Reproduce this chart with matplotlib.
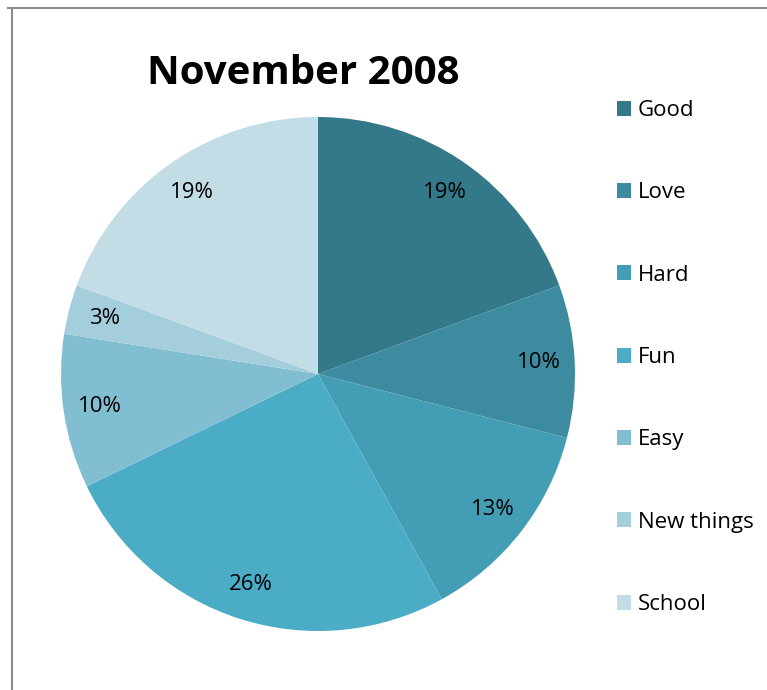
import matplotlib
matplotlib.use('Agg')

import matplotlib.pyplot as plt
from matplotlib.lines import Line2D

plt.rcParams['font.family'] = ['Open Sans', 'DejaVu Sans']

# share of words, November 2008
labels = ['Good', 'Love', 'Hard', 'Fun', 'Easy', 'New things', 'School']
shares = [19.4, 9.6, 13.0, 25.8, 9.7, 3.1, 19.4]
colors = ['#34798a', '#3c8ba0', '#439db5', '#4bacc6', '#82bed1', '#a5cedc', '#c3dde6']

W, H = 767, 690
fig = plt.figure(figsize=(W / 100, H / 100), dpi=100)

# pie axes, centre (318, 374) px, radius 257 px
cx, cy, r = 318, 374, 257
ax = fig.add_axes([(cx - r) / W, (H - cy - r) / H, 2 * r / W, 2 * r / H])
wedges, texts, autotexts = ax.pie(shares, colors=colors, startangle=90, counterclock=False,
                                  autopct='%.0f%%', pctdistance=0.86, radius=1,
                                  wedgeprops=dict(linewidth=0),
                                  textprops=dict(fontsize=16, color='black'))
ax.set_xlim(-1, 1)
ax.set_ylim(-1, 1)
ax.set_aspect('equal')
ax.axis('off')

fig.text(303 / W, 1 - 74 / H, 'November 2008', fontsize=29, fontweight='bold',
         ha='center', va='center')

fig.legend(wedges, labels, loc='upper left', bbox_to_anchor=(617 / W, 1 - 100 / H),
           frameon=False, fontsize=16, labelspacing=2.76, handlelength=0.65,
           handleheight=0.65, handletextpad=0.3, borderpad=0, borderaxespad=0)

# frame edges
fig.add_artist(Line2D([12 / W, 12 / W], [0, 1 - 8 / H], color='#8c8c8c', lw=1.5))
fig.add_artist(Line2D([8 / W, 1], [1 - 8 / H, 1 - 8 / H], color='#8c8c8c', lw=1.5))

fig.savefig('out.png', dpi=100)
